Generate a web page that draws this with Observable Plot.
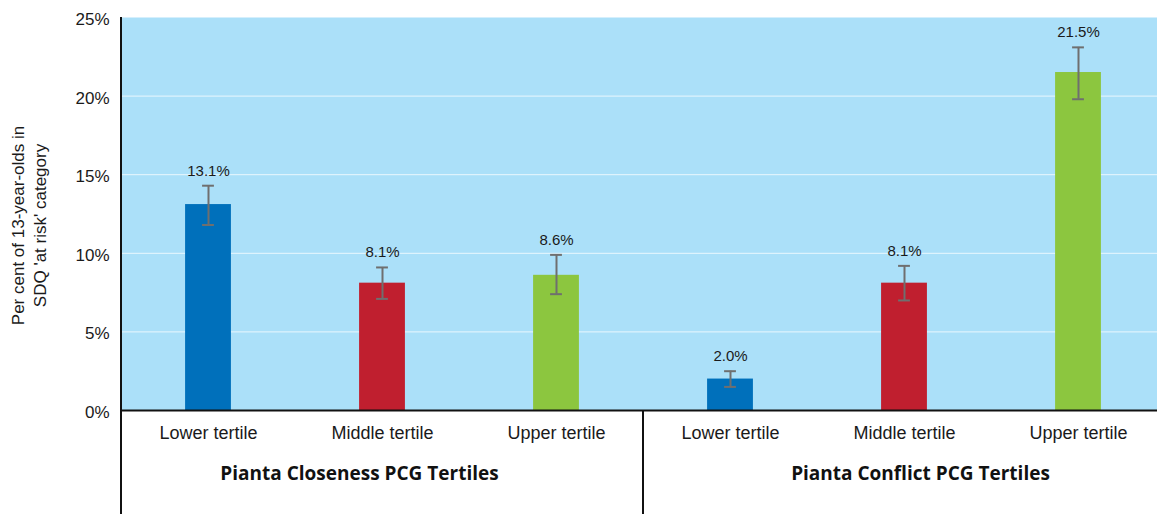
<!DOCTYPE html>
<html>
<head>
<meta charset="utf-8">
<script src="https://cdn.jsdelivr.net/npm/d3@7"></script>
<script src="https://cdn.jsdelivr.net/npm/@observablehq/plot@0.6"></script>
<style>
  html, body { margin: 0; padding: 0; background: #fff; overflow: hidden; }
  #chart { width: 1157px; height: 514px; overflow: hidden; }
  #chart svg { max-width: none !important; }
</style>
</head>
<body>
<div id="chart"></div>
<script>
// ---- data ----
const groups = ["Pianta Closeness PCG Tertiles", "Pianta Conflict PCG Tertiles"];
const tertiles = ["Lower tertile", "Middle tertile", "Upper tertile"];
const closenessValues = [13.1, 8.1, 8.6];
const closenessLow = [11.8, 7.1, 7.4];
const closenessHigh = [14.3, 9.1, 9.9];
const conflictValues = [2.0, 8.1, 21.5];
const conflictLow = [1.5, 7.0, 19.8];
const conflictHigh = [2.5, 9.2, 23.1];
const yTicks = [0, 5, 10, 15, 20, 25];
const yLabelLines = ["Per cent of 13-year-olds in", "SDQ 'at risk' category"];

const colors = ["#0070bb", "#c01f2f", "#8cc63f"];

const rows = [];
const series = [
  [closenessValues, closenessLow, closenessHigh],
  [conflictValues, conflictLow, conflictHigh]
];
groups.forEach((g, gi) => {
  tertiles.forEach((t, ti) => {
    rows.push({
      key: g + "|" + t,
      group: g,
      tertile: t,
      value: series[gi][0][ti],
      lo: series[gi][1][ti],
      hi: series[gi][2][ti],
      color: colors[ti]
    });
  });
});
const keys = rows.map(d => d.key);

const W = 1165, H = 514, ML = 120, MT = 17, MB = 104;
const band = (W - ML) / keys.length;
const barInset = (band - 46) / 2;
const capInset = (band - 12) / 2;

const chart = Plot.plot({
  width: W,
  height: H,
  marginLeft: ML,
  marginRight: 0,
  marginTop: MT,
  marginBottom: MB,
  style: {
    fontFamily: "'Liberation Sans', Arial, Helvetica, sans-serif",
    fontSize: "15px",
    color: "#1a1a1a",
    background: "white",
    overflow: "visible",
    maxWidth: "none"
  },
  x: { type: "band", domain: keys, padding: 0 },
  y: { domain: [0, 25] },
  marks: [
    Plot.frame({ fill: "#abe0f9", stroke: null }),
    Plot.gridY(yTicks.filter(t => t > 0 && t < 25), { stroke: "white", strokeOpacity: 0.75, strokeWidth: 1 }),
    Plot.axisY(yTicks, {
      tickSize: 0, tickPadding: 11, fontSize: 17, dy: 2,
      tickFormat: d => d + "%", label: null
    }),
    Plot.axisX({
      tickSize: 0, tickPadding: 16, fontSize: 18,
      tickFormat: d => d.split("|")[1], label: null
    }),
    Plot.barY(rows, {
      x: "key", y: "value", fill: "color",
      insetLeft: barInset, insetRight: barInset
    }),
    Plot.ruleX(rows, { x: "key", y1: "lo", y2: "hi", stroke: "#6f6f6f", strokeWidth: 2 }),
    Plot.tickY(rows, { x: "key", y: "lo", stroke: "#6f6f6f", strokeWidth: 2, insetLeft: capInset, insetRight: capInset }),
    Plot.tickY(rows, { x: "key", y: "hi", stroke: "#6f6f6f", strokeWidth: 2, insetLeft: capInset, insetRight: capInset }),
    Plot.text(rows, {
      x: "key", y: "hi", text: d => d.value.toFixed(1) + "%",
      dy: -15, fontSize: 15, fill: "#1a1a1a"
    }),
    Plot.ruleY([0], { stroke: "#111", strokeWidth: 2 }),
    Plot.text([rows[1]], {
      x: "key", y: 0, text: "group", dy: 63, dx: -23,
      fontSize: 19, fontWeight: "bold",
      fontFamily: "'Open Sans', 'Noto Sans', sans-serif", fill: "#111"
    }),
    Plot.text([rows[4]], {
      x: "key", y: 0, text: "group", dy: 63, dx: 16,
      fontSize: 19, fontWeight: "bold",
      fontFamily: "'Open Sans', 'Noto Sans', sans-serif", fill: "#111"
    })
  ]
});

chart.style.maxWidth = "none";
document.getElementById("chart").appendChild(chart);

// separators (left axis line and the group divider) derived from the x scale
const xs = chart.scale("x");
const ys = chart.scale("y");
const svg = d3.select(chart);
const leftX = xs.apply(keys[0]);
const divX = xs.apply(keys[3]);
svg.append("line")
  .attr("x1", leftX).attr("x2", leftX)
  .attr("y1", ys.apply(25)).attr("y2", H)
  .attr("stroke", "#111").attr("stroke-width", 2);
svg.append("line")
  .attr("x1", divX).attr("x2", divX)
  .attr("y1", ys.apply(0)).attr("y2", H)
  .attr("stroke", "#111").attr("stroke-width", 2);

// rotated y-axis title (two lines)
const midY = (ys.apply(0) + ys.apply(25)) / 2 + 12;
const yt = svg.append("text")
  .attr("transform", `translate(24,${midY}) rotate(-90)`)
  .attr("text-anchor", "middle")
  .attr("font-size", 17)
  .attr("fill", "#1a1a1a");
yLabelLines.forEach((line, i) => {
  yt.append("tspan").attr("x", 0).attr("dy", i === 0 ? 0 : 22).text(line);
});
</script>
</body>
</html>
